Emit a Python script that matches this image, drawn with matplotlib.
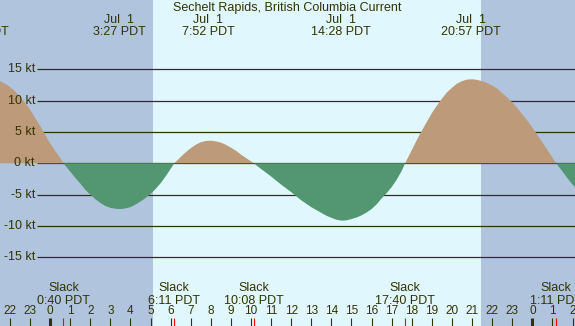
import numpy as np
import matplotlib
matplotlib.use("Agg")
import matplotlib.pyplot as plt

plt.rcParams['font.family'] = ['Liberation Sans', 'DejaVu Sans']

# current speed (kt), hours from Jul 1 00:00 PDT
hours = [-2.49, -2.25, -2.0, -1.75, -1.5, -1.25, -1.0, -0.75, -0.5, -0.25,
         0.0, 0.25, 0.5, 0.667,
         1.0, 1.25, 1.5, 1.75, 2.0, 2.25, 2.5, 2.75, 3.0, 3.25, 3.5, 3.75,
         4.0, 4.25, 4.5, 4.75, 5.0, 5.25, 5.5, 5.75, 6.0, 6.183,
         6.5, 6.75, 7.0, 7.25, 7.5, 7.75, 8.0, 8.25, 8.5, 8.75, 9.0, 9.25,
         9.5, 9.75, 10.0, 10.133,
         10.5, 11.0, 11.5, 12.0, 12.5, 13.0, 13.25, 13.5, 13.75, 14.0,
         14.25, 14.5, 14.75, 15.0, 15.25, 15.5, 15.75, 16.0, 16.25, 16.5,
         16.75, 17.0, 17.25, 17.5, 17.667,
         18.0, 18.25, 18.5, 18.75, 19.0, 19.25, 19.5, 19.75, 20.0, 20.25,
         20.5, 20.75, 21.0, 21.25, 21.5, 21.75, 22.0, 22.25, 22.5, 22.75,
         23.0, 23.25, 23.5, 23.75, 24.0, 24.25, 24.5, 24.75, 25.0, 25.183,
         25.5, 25.75, 26.0, 26.12]
speed = [13.1, 12.7, 12.2, 11.5, 10.6, 9.7, 8.6, 7.3, 6.0, 4.6,
         3.2, 2.0, 0.9, 0.0,
         -1.3, -2.3, -3.2, -4.2, -5.0, -5.7, -6.3, -6.8, -7.1, -7.25, -7.3, -7.2,
         -7.0, -6.6, -6.1, -5.55, -4.9, -4.1, -3.2, -2.1, -0.9, 0.0,
         1.0, 1.75, 2.4, 2.95, 3.35, 3.55, 3.6, 3.5, 3.3, 2.95, 2.5, 2.0,
         1.4, 0.85, 0.3, 0.0,
         -0.9, -2.1, -3.4, -4.6, -5.9, -7.0, -7.45, -7.9, -8.35, -8.7,
         -9.0, -9.15, -9.1, -8.9, -8.65, -8.3, -7.85, -7.3, -6.55, -5.6,
         -4.75, -3.8, -2.6, -1.2, 0.0,
         2.1, 3.7, 5.2, 6.6, 8.0, 9.2, 10.3, 11.3, 12.05, 12.7,
         13.1, 13.35, 13.4, 13.3, 13.1, 12.8, 12.4, 11.9, 11.2, 10.5,
         9.7, 8.8, 7.8, 6.8, 5.7, 4.5, 3.35, 2.1, 0.9, 0.0,
         -1.3, -2.4, -3.4, -3.83]

max_times = [-3.53, 3.45, 7.867, 14.467, 20.95]
max_dates = ['Jun 30', 'Jul  1', 'Jul  1', 'Jul  1', 'Jul  1']
max_labels = ['20:28 PDT', '3:27 PDT', '7:52 PDT', '14:28 PDT', '20:57 PDT']
slack_times = [0.667, 6.183, 10.133, 17.667, 25.183]
slack_labels = ['0:40 PDT', '6:11 PDT', '10:08 PDT', '17:40 PDT', '1:11 PDT']
sunrise, sunset = 5.12, 21.43
grid_levels = [15, 10, 5, 0, -5, -10, -15]

W, H = 575, 326
ink = '#333300'
night = '#b0c4de'
day = '#e0f7fe'
flood = '#bc9a7a'
ebb = '#529672'

fig = plt.figure(figsize=(W / 100, H / 100), dpi=100)
ax = fig.add_axes([0, 0, 1, 1])
x0, x1 = -2.488, 26.12
ax.set_xlim(x0, x1)
ax.set_ylim(-25.95, 26.04)
ax.axis('off')
ax.axvspan(x0, x1, color=day, zorder=0)
ax.axvspan(x0, sunrise, color=night, zorder=0.5, lw=0)
ax.axvspan(sunset, x1, color=night, zorder=0.5, lw=0)


def py(y):
    # pixel row -> axes fraction
    return 1 - y / H


ax.hlines(grid_levels, -0.65, x1, colors=ink, lw=0.9, zorder=1)
for g in grid_levels:
    ax.text(35 / W, g, '%d kt' % g, transform=ax.get_yaxis_transform(),
            ha='right', va='center', fontsize=9, color=ink)

h = np.array(hours)
v = np.array(speed)
ax.fill_between(h, v, 0, where=v >= 0, interpolate=True, color=flood,
                lw=0, zorder=2)
ax.fill_between(h, v, 0, where=v <= 0, interpolate=True, color=ebb,
                lw=0, zorder=2)

xt = ax.get_xaxis_transform()
ax.text(0.5, py(7.5), 'Sechelt Rapids, British Columbia Current',
        transform=ax.transAxes, ha='center', va='center', fontsize=9,
        color=ink, zorder=5)
for t, d, lab in zip(max_times, max_dates, max_labels):
    ax.text(t, py(20), d, transform=xt, ha='center', va='center',
            fontsize=9, color=ink, zorder=5)
    ax.text(t, py(32), lab, transform=xt, ha='center', va='center',
            fontsize=9, color=ink, zorder=5)

for t, lab in zip(slack_times, slack_labels):
    ax.text(t, py(288), 'Slack', transform=xt, ha='center', va='center',
            fontsize=9, color=ink, zorder=5)
    ax.text(t, py(300.5), lab, transform=xt, ha='center', va='center',
            fontsize=9, color=ink, zorder=5)

for hr in range(-2, 27):
    ax.text(hr, py(311.5), str(hr % 24), transform=xt, ha='center',
            va='center', fontsize=8.5, color=ink, zorder=5)
    lw = 2.2 if hr % 24 == 0 else 0.8
    ax.vlines(hr, 0, 8 / H, transform=xt, colors=ink, lw=lw, zorder=5)
ax.vlines(slack_times, 0, 8 / H, transform=xt, colors='red', lw=0.8, zorder=6)

fig.savefig('out.png', dpi=100)
